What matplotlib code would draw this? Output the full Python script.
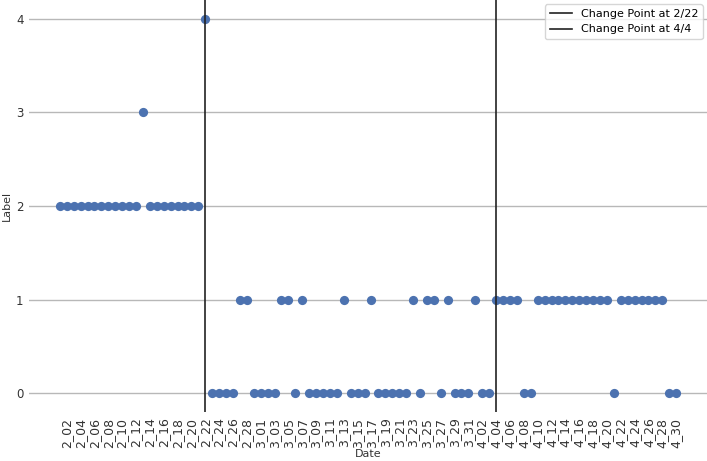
import matplotlib
matplotlib.use("Agg")
import matplotlib.pyplot as plt
import numpy as np

# Categories: every day from 2_01 to 4_30 (2020, leap year)
month_days = {2: 29, 3: 31, 4: 30}
dates = [f"{m}_{d:02d}" for m, n in month_days.items() for d in range(1, n + 1)]

feb_labels = [2, 2, 2, 2, 2, 2, 2, 2, 2, 2, 2, 2, 3, 2, 2, 2, 2, 2, 2, 2, 2, 4,
              0, 0, 0, 0, 1, 1, 0]
mar_labels = [0, 0, 0, 1, 1, 0, 1, 0, 0, 0, 0, 0, 1, 0, 0, 0, 1, 0, 0, 0, 0, 0,
              1, 0, 1, 1, 0, 1, 0, 0, 0]
apr_labels = [1, 0, 0, 1, 1, 1, 1, 0, 0, 1, 1, 1, 1, 1, 1, 1, 1, 1, 1, 1, 0, 1,
              1, 1, 1, 1, 1, 1, 0, 0]
labels = feb_labels + mar_labels + apr_labels

change_points = ["2_22", "4_04"]
change_names = ["Change Point at 2/22", "Change Point at 4/4"]

fig = plt.figure(figsize=(7.07, 4.61), dpi=100)
ax = fig.add_axes([29 / 707, (461 - 412) / 461, 678 / 707, 412 / 461])

x = np.arange(len(dates))
ax.scatter(x, labels, s=44, color="#4C72B0", zorder=3, linewidths=0)

for cp, name in zip(change_points, change_names):
    ax.axvline(dates.index(cp), color="#222222", lw=1.2, zorder=4, label=name)

ax.set_xticks(x[1::2])
ax.set_xticklabels(dates[1::2], rotation=90, fontsize=9, color="#333333")
ax.set_yticks([0, 1, 2, 3, 4])
ax.set_yticklabels(["0", "1", "2", "3", "4"], fontsize=8.5, color="#333333")
ax.tick_params(axis="both", length=0, pad=4)
ax.grid(axis="y", color="#b8b8b8", lw=1)
ax.set_axisbelow(True)
for s in ax.spines.values():
    s.set_visible(False)

ax.set_xlabel("Date", fontsize=8, color="#333333", labelpad=1)
ax.set_ylabel("Label", fontsize=8, color="#333333", labelpad=3)

leg = ax.legend(loc="upper right", fontsize=8, frameon=True, borderaxespad=0.4)
leg.get_frame().set_edgecolor("#cccccc")

fig.savefig("out.png", dpi=100)
